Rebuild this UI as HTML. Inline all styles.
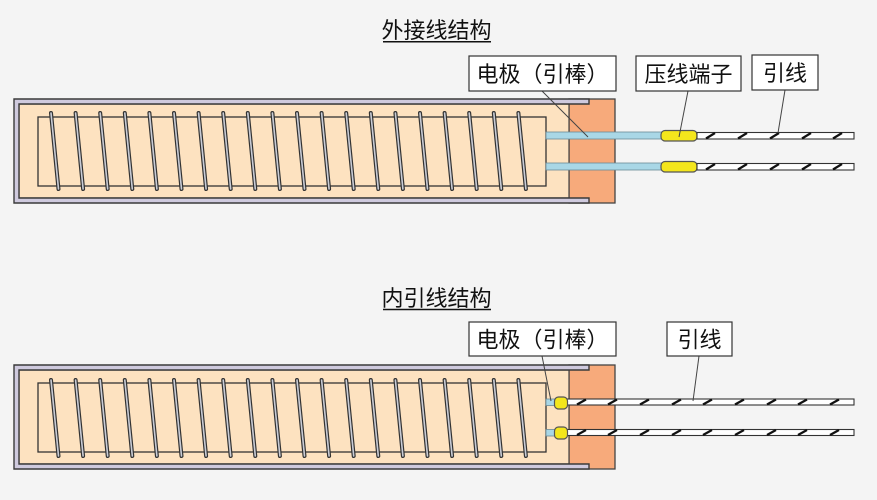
<!DOCTYPE html>
<html><head><meta charset="utf-8">
<style>
html,body{margin:0;padding:0;background:#f4f4f4;}
svg{display:block;}
text{font-family:"Liberation Sans","Noto Sans CJK SC",sans-serif;fill:#111;}
</style></head>
<body>
<svg width="877" height="500" viewBox="0 0 877 500" xmlns="http://www.w3.org/2000/svg">
<rect width="877" height="500" fill="#f4f4f4"/>
<defs>
  <g id="heater">
    <!-- orange block -->
    <rect x="569" y="99" width="46" height="104" fill="#f7aa7b" stroke="#444" stroke-width="1.3"/>
    <!-- beige inner -->
    <rect x="19" y="104" width="550" height="94" fill="#fde2c0" stroke="#444" stroke-width="1.2"/>
    <!-- lavender U frame -->
    <path d="M589,99 L14,99 L14,203 L589,203 L589,198 L19,198 L19,104 L589,104 Z" fill="#cfcade" stroke="#3a3a3a" stroke-width="1.4"/>
    <!-- core rect -->
    <rect x="38" y="117" width="508" height="69" fill="none" stroke="#333" stroke-width="1.3"/>
  </g>
  <g id="coils">
    <g stroke="#333" stroke-width="4" stroke-linecap="round">
      <line x1="51" y1="0" x2="58.5" y2="76"/><line x1="75.6" y1="0" x2="83.1" y2="76"/><line x1="100.2" y1="0" x2="107.7" y2="76"/><line x1="124.8" y1="0" x2="132.3" y2="76"/><line x1="149.4" y1="0" x2="156.9" y2="76"/>
      <line x1="174" y1="0" x2="181.5" y2="76"/><line x1="198.6" y1="0" x2="206.1" y2="76"/><line x1="223.2" y1="0" x2="230.7" y2="76"/><line x1="247.8" y1="0" x2="255.3" y2="76"/><line x1="272.4" y1="0" x2="279.9" y2="76"/>
      <line x1="297" y1="0" x2="304.5" y2="76"/><line x1="321.6" y1="0" x2="329.1" y2="76"/><line x1="346.2" y1="0" x2="353.7" y2="76"/><line x1="370.8" y1="0" x2="378.3" y2="76"/><line x1="395.4" y1="0" x2="402.9" y2="76"/>
      <line x1="420" y1="0" x2="427.5" y2="76"/><line x1="444.6" y1="0" x2="452.1" y2="76"/><line x1="469.2" y1="0" x2="476.7" y2="76"/><line x1="493.8" y1="0" x2="501.3" y2="76"/><line x1="518.4" y1="0" x2="525.9" y2="76"/>
    </g>
    <g stroke="#c9ccd6" stroke-width="1.6" stroke-linecap="round">
      <line x1="51" y1="0" x2="58.5" y2="76"/><line x1="75.6" y1="0" x2="83.1" y2="76"/><line x1="100.2" y1="0" x2="107.7" y2="76"/><line x1="124.8" y1="0" x2="132.3" y2="76"/><line x1="149.4" y1="0" x2="156.9" y2="76"/>
      <line x1="174" y1="0" x2="181.5" y2="76"/><line x1="198.6" y1="0" x2="206.1" y2="76"/><line x1="223.2" y1="0" x2="230.7" y2="76"/><line x1="247.8" y1="0" x2="255.3" y2="76"/><line x1="272.4" y1="0" x2="279.9" y2="76"/>
      <line x1="297" y1="0" x2="304.5" y2="76"/><line x1="321.6" y1="0" x2="329.1" y2="76"/><line x1="346.2" y1="0" x2="353.7" y2="76"/><line x1="370.8" y1="0" x2="378.3" y2="76"/><line x1="395.4" y1="0" x2="402.9" y2="76"/>
      <line x1="420" y1="0" x2="427.5" y2="76"/><line x1="444.6" y1="0" x2="452.1" y2="76"/><line x1="469.2" y1="0" x2="476.7" y2="76"/><line x1="493.8" y1="0" x2="501.3" y2="76"/><line x1="518.4" y1="0" x2="525.9" y2="76"/>
    </g>
  </g>
</defs>

<!-- ===== TOP: 外接线结构 ===== -->
<text x="436.5" y="38" font-size="22" text-anchor="middle">外接线结构</text>
<line x1="383" y1="41.8" x2="491" y2="41.8" stroke="#111" stroke-width="1.5"/>

<use href="#heater"/>
<use href="#coils" transform="translate(0,113)"/>

<!-- rods -->
<rect x="546" y="132" width="116" height="7" fill="#a9d7e6" stroke="#6a8a96" stroke-width="0.8"/>
<rect x="546" y="163" width="116" height="7" fill="#a9d7e6" stroke="#6a8a96" stroke-width="0.8"/>
<!-- crimps -->
<rect x="661" y="130.5" width="36" height="10.5" rx="4" fill="#f4e61c" stroke="#555" stroke-width="1.2"/>
<rect x="661" y="161.5" width="36" height="10.5" rx="4" fill="#f4e61c" stroke="#555" stroke-width="1.2"/>
<!-- leads -->
<rect x="697" y="132.5" width="157" height="6.5" fill="#fff" stroke="#333" stroke-width="1.1"/>
<rect x="697" y="163.5" width="157" height="6.5" fill="#fff" stroke="#333" stroke-width="1.1"/>
<g stroke="#111" stroke-width="2.2">
  <line x1="706" y1="138.5" x2="715" y2="133"/><line x1="738" y1="138.5" x2="747" y2="133"/><line x1="770" y1="138.5" x2="779" y2="133"/><line x1="802" y1="138.5" x2="811" y2="133"/><line x1="833" y1="138.5" x2="842" y2="133"/>
  <line x1="706" y1="169.5" x2="715" y2="164"/><line x1="738" y1="169.5" x2="747" y2="164"/><line x1="770" y1="169.5" x2="779" y2="164"/><line x1="802" y1="169.5" x2="811" y2="164"/><line x1="833" y1="169.5" x2="842" y2="164"/>
</g>

<!-- labels top -->
<g stroke="#444" stroke-width="1">
  <line x1="542" y1="91" x2="588" y2="137"/>
  <line x1="688" y1="91" x2="679" y2="137"/>
  <line x1="785" y1="90" x2="778" y2="133"/>
</g>
<rect x="469" y="56" width="147" height="35" fill="#fff" stroke="#333" stroke-width="1.2"/>
<text x="542.5" y="82" font-size="22" text-anchor="middle">电极（引棒）</text>
<rect x="636" y="56" width="105" height="35" fill="#fff" stroke="#333" stroke-width="1.2"/>
<text x="688.5" y="82" font-size="22" text-anchor="middle">压线端子</text>
<rect x="752" y="55" width="66" height="35" fill="#fff" stroke="#333" stroke-width="1.2"/>
<text x="785" y="81" font-size="22" text-anchor="middle">引线</text>

<!-- ===== BOTTOM: 内引线结构 ===== -->
<text x="436.5" y="306" font-size="22" text-anchor="middle">内引线结构</text>
<line x1="383" y1="309.5" x2="491" y2="309.5" stroke="#111" stroke-width="1.5"/>

<use href="#heater" transform="translate(0,266)"/>
<use href="#coils" transform="translate(0,380)"/>

<!-- short rods -->
<rect x="546" y="399" width="10" height="6.5" fill="#a9d7e6" stroke="#6a8a96" stroke-width="0.8"/>
<rect x="546" y="429.5" width="10" height="6.5" fill="#a9d7e6" stroke="#6a8a96" stroke-width="0.8"/>
<!-- leads -->
<rect x="567" y="399" width="287" height="6" fill="#fff" stroke="#333" stroke-width="1.1"/>
<rect x="567" y="429.5" width="287" height="6" fill="#fff" stroke="#333" stroke-width="1.1"/>
<g stroke="#111" stroke-width="2.2">
  <line x1="577" y1="404.5" x2="586" y2="399.5"/><line x1="608" y1="404.5" x2="617" y2="399.5"/><line x1="640" y1="404.5" x2="649" y2="399.5"/><line x1="672" y1="404.5" x2="681" y2="399.5"/><line x1="703" y1="404.5" x2="712" y2="399.5"/><line x1="735" y1="404.5" x2="744" y2="399.5"/><line x1="767" y1="404.5" x2="776" y2="399.5"/><line x1="798" y1="404.5" x2="807" y2="399.5"/><line x1="830" y1="404.5" x2="839" y2="399.5"/>
  <line x1="577" y1="435" x2="586" y2="430"/><line x1="608" y1="435" x2="617" y2="430"/><line x1="640" y1="435" x2="649" y2="430"/><line x1="672" y1="435" x2="681" y2="430"/><line x1="703" y1="435" x2="712" y2="430"/><line x1="735" y1="435" x2="744" y2="430"/><line x1="767" y1="435" x2="776" y2="430"/><line x1="798" y1="435" x2="807" y2="430"/><line x1="830" y1="435" x2="839" y2="430"/>
</g>
<!-- small crimps -->
<rect x="554.5" y="397" width="13" height="12" rx="4" fill="#f4e61c" stroke="#555" stroke-width="1.2"/>
<rect x="554.5" y="427" width="13" height="12" rx="4" fill="#f4e61c" stroke="#555" stroke-width="1.2"/>

<!-- labels bottom -->
<g stroke="#444" stroke-width="1">
  <line x1="542" y1="356" x2="551" y2="401"/>
  <line x1="699" y1="356" x2="693" y2="401"/>
</g>
<rect x="469" y="322" width="147" height="34" fill="#fff" stroke="#333" stroke-width="1.2"/>
<text x="542.5" y="347.5" font-size="22" text-anchor="middle">电极（引棒）</text>
<rect x="667" y="322" width="65" height="34" fill="#fff" stroke="#333" stroke-width="1.2"/>
<text x="699.5" y="347.5" font-size="22" text-anchor="middle">引线</text>
</svg>
</body></html>
